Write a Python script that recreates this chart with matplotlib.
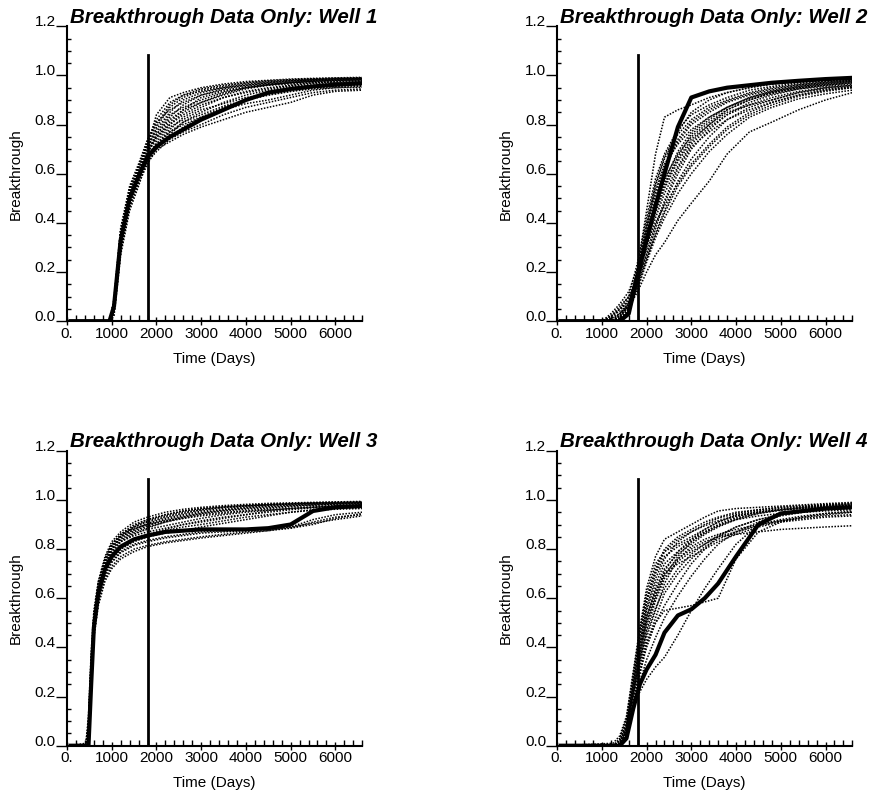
import matplotlib
matplotlib.use('Agg')
import matplotlib.pyplot as plt
from matplotlib.ticker import MultipleLocator, FuncFormatter

plt.rcParams['font.family'] = ['Liberation Sans', 'DejaVu Sans']

# ---- data ----
cutoff_day = 1800
cutoff_top = 1.085

# Well 1
t_w1 = [80, 950, 1050, 1200, 1400, 1600, 1800, 2000, 2300, 2600, 3000, 3500, 4000, 4500, 5000, 5500, 6000, 6600]
truth_w1 = [0, 0, 0.06, 0.33, 0.50, 0.59, 0.67, 0.71, 0.75, 0.78, 0.82, 0.86, 0.90, 0.93, 0.945, 0.955, 0.962, 0.968]
runs_w1 = [
    [0, 0, 0.08, 0.36, 0.53, 0.62, 0.72, 0.84, 0.91, 0.93, 0.95, 0.965, 0.975, 0.98, 0.985, 0.988, 0.99, 0.992],
    [0, 0, 0.05, 0.31, 0.49, 0.60, 0.70, 0.79, 0.87, 0.91, 0.94, 0.955, 0.97, 0.975, 0.98, 0.985, 0.988, 0.99],
    [0, 0, 0.04, 0.30, 0.48, 0.58, 0.68, 0.76, 0.83, 0.88, 0.92, 0.945, 0.96, 0.97, 0.978, 0.983, 0.986, 0.988],
    [0, 0, 0.07, 0.34, 0.52, 0.61, 0.69, 0.74, 0.80, 0.85, 0.89, 0.92, 0.945, 0.96, 0.97, 0.975, 0.98, 0.984],
    [0, 0, 0.03, 0.28, 0.46, 0.57, 0.66, 0.72, 0.78, 0.83, 0.87, 0.91, 0.935, 0.95, 0.96, 0.97, 0.975, 0.98],
    [0, 0, 0.06, 0.32, 0.50, 0.58, 0.65, 0.69, 0.74, 0.77, 0.80, 0.84, 0.87, 0.89, 0.91, 0.93, 0.94, 0.945],
    [0, 0, 0.05, 0.33, 0.51, 0.60, 0.66, 0.70, 0.73, 0.76, 0.79, 0.82, 0.85, 0.87, 0.89, 0.92, 0.935, 0.94],
    [0, 0, 0.09, 0.38, 0.55, 0.64, 0.74, 0.81, 0.86, 0.89, 0.92, 0.94, 0.955, 0.965, 0.97, 0.975, 0.978, 0.98],
    [0, 0, 0.04, 0.29, 0.47, 0.56, 0.64, 0.70, 0.76, 0.81, 0.85, 0.89, 0.92, 0.94, 0.955, 0.96, 0.965, 0.97],
    [0, 0, 0.06, 0.35, 0.52, 0.62, 0.71, 0.77, 0.84, 0.87, 0.90, 0.93, 0.95, 0.962, 0.97, 0.976, 0.98, 0.982],
    [0, 0, 0.02, 0.27, 0.45, 0.55, 0.66, 0.73, 0.79, 0.82, 0.86, 0.885, 0.91, 0.925, 0.94, 0.95, 0.955, 0.96],
    [0, 0, 0.07, 0.36, 0.54, 0.63, 0.73, 0.80, 0.88, 0.92, 0.945, 0.96, 0.97, 0.978, 0.983, 0.986, 0.988, 0.99],
    [0, 0, 0.05, 0.31, 0.49, 0.59, 0.67, 0.72, 0.77, 0.80, 0.83, 0.87, 0.90, 0.92, 0.935, 0.945, 0.95, 0.955],
    [0, 0, 0.08, 0.37, 0.53, 0.61, 0.70, 0.75, 0.81, 0.86, 0.91, 0.935, 0.95, 0.96, 0.965, 0.97, 0.972, 0.975],
    [0, 0, 0.06, 0.34, 0.51, 0.60, 0.69, 0.76, 0.82, 0.86, 0.89, 0.925, 0.95, 0.962, 0.972, 0.978, 0.982, 0.985],
    [0, 0, 0.04, 0.30, 0.48, 0.58, 0.67, 0.71, 0.75, 0.79, 0.83, 0.86, 0.885, 0.90, 0.92, 0.94, 0.95, 0.952],
    [0, 0, 0.07, 0.35, 0.52, 0.62, 0.72, 0.82, 0.89, 0.92, 0.935, 0.95, 0.96, 0.968, 0.975, 0.98, 0.984, 0.986],
    [0, 0, 0.05, 0.32, 0.50, 0.60, 0.68, 0.75, 0.80, 0.84, 0.88, 0.91, 0.93, 0.945, 0.958, 0.966, 0.97, 0.974],
    [0, 0, 0.03, 0.29, 0.47, 0.57, 0.65, 0.71, 0.77, 0.81, 0.84, 0.875, 0.90, 0.92, 0.935, 0.95, 0.958, 0.962],
    [0, 0, 0.08, 0.37, 0.54, 0.63, 0.72, 0.78, 0.85, 0.90, 0.93, 0.95, 0.965, 0.972, 0.978, 0.982, 0.985, 0.988],
]

# Well 2
t_w2 = [80, 1000, 1200, 1400, 1600, 1800, 2000, 2200, 2400, 2700, 3000, 3400, 3800, 4300, 4800, 5400, 6000, 6600]
truth_w2 = [0, 0, 0, 0, 0.03, 0.19, 0.33, 0.47, 0.60, 0.79, 0.91, 0.935, 0.95, 0.96, 0.97, 0.978, 0.985, 0.99]
runs_w2 = [
    [0, 0, 0.03, 0.07, 0.12, 0.22, 0.45, 0.68, 0.83, 0.86, 0.88, 0.91, 0.93, 0.95, 0.965, 0.975, 0.98, 0.985],
    [0, 0, 0.01, 0.05, 0.10, 0.24, 0.42, 0.58, 0.68, 0.78, 0.84, 0.88, 0.91, 0.94, 0.955, 0.97, 0.978, 0.985],
    [0, 0, 0, 0.03, 0.08, 0.20, 0.38, 0.55, 0.66, 0.76, 0.82, 0.87, 0.90, 0.93, 0.95, 0.965, 0.975, 0.98],
    [0, 0, 0, 0.02, 0.06, 0.18, 0.35, 0.50, 0.62, 0.73, 0.80, 0.85, 0.89, 0.92, 0.94, 0.96, 0.97, 0.978],
    [0, 0, 0, 0.01, 0.05, 0.17, 0.32, 0.46, 0.57, 0.69, 0.77, 0.83, 0.87, 0.91, 0.935, 0.955, 0.965, 0.975],
    [0, 0, 0, 0.02, 0.07, 0.21, 0.36, 0.48, 0.58, 0.68, 0.75, 0.81, 0.86, 0.90, 0.93, 0.95, 0.96, 0.97],
    [0, 0, 0, 0.01, 0.04, 0.16, 0.30, 0.42, 0.52, 0.63, 0.72, 0.79, 0.84, 0.89, 0.92, 0.945, 0.955, 0.965],
    [0, 0, 0, 0, 0.03, 0.15, 0.27, 0.38, 0.48, 0.60, 0.70, 0.78, 0.84, 0.88, 0.91, 0.935, 0.95, 0.96],
    [0, 0, 0.02, 0.04, 0.09, 0.19, 0.31, 0.40, 0.47, 0.56, 0.64, 0.72, 0.79, 0.85, 0.89, 0.92, 0.94, 0.955],
    [0, 0, 0, 0.01, 0.04, 0.13, 0.24, 0.34, 0.42, 0.52, 0.60, 0.69, 0.76, 0.83, 0.87, 0.905, 0.925, 0.94],
    [0, 0, 0.01, 0.03, 0.06, 0.12, 0.20, 0.27, 0.32, 0.41, 0.48, 0.57, 0.68, 0.77, 0.81, 0.86, 0.90, 0.93],
    [0, 0, 0, 0.02, 0.06, 0.22, 0.40, 0.56, 0.67, 0.77, 0.85, 0.90, 0.93, 0.95, 0.965, 0.975, 0.982, 0.988],
    [0, 0, 0, 0.01, 0.05, 0.19, 0.34, 0.47, 0.56, 0.66, 0.74, 0.80, 0.85, 0.88, 0.90, 0.93, 0.95, 0.96],
    [0, 0, 0.02, 0.05, 0.08, 0.14, 0.25, 0.36, 0.45, 0.57, 0.66, 0.75, 0.82, 0.87, 0.90, 0.93, 0.945, 0.955],
    [0, 0, 0, 0.02, 0.07, 0.20, 0.37, 0.52, 0.63, 0.74, 0.81, 0.86, 0.895, 0.925, 0.945, 0.962, 0.972, 0.98],
    [0, 0, 0.01, 0.03, 0.07, 0.17, 0.31, 0.44, 0.54, 0.65, 0.73, 0.80, 0.86, 0.90, 0.925, 0.945, 0.96, 0.97],
    [0, 0, 0, 0.01, 0.05, 0.18, 0.33, 0.45, 0.55, 0.67, 0.76, 0.82, 0.87, 0.91, 0.935, 0.955, 0.968, 0.975],
    [0, 0, 0.02, 0.06, 0.10, 0.16, 0.26, 0.35, 0.44, 0.55, 0.63, 0.71, 0.78, 0.84, 0.88, 0.915, 0.935, 0.95],
    [0, 0, 0, 0.02, 0.06, 0.21, 0.39, 0.53, 0.64, 0.72, 0.78, 0.83, 0.87, 0.905, 0.93, 0.95, 0.962, 0.97],
    [0, 0, 0, 0, 0.04, 0.16, 0.28, 0.39, 0.49, 0.62, 0.71, 0.77, 0.82, 0.86, 0.89, 0.92, 0.94, 0.95],
]

# Well 3
t_w3 = [80, 420, 480, 540, 600, 700, 850, 1000, 1200, 1500, 1800, 2200, 2600, 3000, 3500, 4000, 4500, 5000, 5500, 6000, 6600]
truth_w3 = [0, 0, 0, 0.25, 0.48, 0.62, 0.72, 0.77, 0.81, 0.84, 0.855, 0.87, 0.875, 0.88, 0.88, 0.88, 0.885, 0.90, 0.955, 0.97, 0.975]
runs_w3 = [
    [0, 0, 0.10, 0.35, 0.53, 0.66, 0.76, 0.82, 0.86, 0.90, 0.92, 0.94, 0.955, 0.965, 0.972, 0.978, 0.982, 0.985, 0.988, 0.99, 0.992],
    [0, 0, 0.05, 0.30, 0.50, 0.64, 0.75, 0.80, 0.85, 0.88, 0.905, 0.925, 0.94, 0.955, 0.965, 0.972, 0.978, 0.982, 0.985, 0.988, 0.99],
    [0, 0, 0.02, 0.27, 0.47, 0.61, 0.72, 0.78, 0.83, 0.86, 0.885, 0.91, 0.93, 0.945, 0.958, 0.966, 0.972, 0.977, 0.98, 0.984, 0.986],
    [0, 0.01, 0.12, 0.38, 0.55, 0.67, 0.77, 0.83, 0.87, 0.91, 0.93, 0.95, 0.962, 0.97, 0.977, 0.982, 0.986, 0.988, 0.99, 0.992, 0.994],
    [0, 0, 0.04, 0.29, 0.48, 0.62, 0.72, 0.77, 0.81, 0.84, 0.86, 0.88, 0.90, 0.915, 0.93, 0.94, 0.95, 0.96, 0.968, 0.972, 0.975],
    [0, 0, 0.03, 0.26, 0.45, 0.58, 0.68, 0.73, 0.77, 0.80, 0.815, 0.83, 0.84, 0.85, 0.86, 0.87, 0.875, 0.885, 0.91, 0.93, 0.94],
    [0, 0, 0.06, 0.31, 0.50, 0.63, 0.73, 0.79, 0.83, 0.855, 0.87, 0.885, 0.90, 0.91, 0.925, 0.94, 0.955, 0.965, 0.972, 0.978, 0.98],
    [0, 0, 0.08, 0.33, 0.52, 0.65, 0.75, 0.81, 0.855, 0.89, 0.91, 0.93, 0.945, 0.96, 0.97, 0.976, 0.98, 0.984, 0.987, 0.989, 0.99],
    [0, 0, 0.03, 0.28, 0.47, 0.60, 0.70, 0.75, 0.79, 0.82, 0.835, 0.85, 0.86, 0.87, 0.875, 0.88, 0.885, 0.89, 0.92, 0.94, 0.95],
    [0, 0, 0.07, 0.32, 0.51, 0.64, 0.74, 0.80, 0.84, 0.87, 0.89, 0.91, 0.925, 0.94, 0.95, 0.955, 0.96, 0.965, 0.97, 0.975, 0.978],
    [0, 0, 0.04, 0.29, 0.49, 0.63, 0.74, 0.80, 0.85, 0.89, 0.915, 0.935, 0.95, 0.96, 0.97, 0.975, 0.98, 0.984, 0.986, 0.988, 0.99],
    [0, 0, 0.05, 0.30, 0.48, 0.61, 0.71, 0.76, 0.80, 0.83, 0.85, 0.865, 0.875, 0.89, 0.905, 0.92, 0.935, 0.95, 0.96, 0.965, 0.97],
    [0, 0, 0.09, 0.34, 0.53, 0.66, 0.76, 0.82, 0.86, 0.885, 0.90, 0.915, 0.925, 0.935, 0.945, 0.955, 0.965, 0.972, 0.978, 0.982, 0.985],
    [0, 0, 0.02, 0.25, 0.44, 0.57, 0.67, 0.72, 0.76, 0.79, 0.81, 0.825, 0.835, 0.845, 0.855, 0.865, 0.875, 0.89, 0.905, 0.92, 0.935],
    [0, 0, 0.06, 0.31, 0.50, 0.63, 0.74, 0.80, 0.845, 0.875, 0.895, 0.915, 0.93, 0.945, 0.955, 0.962, 0.968, 0.975, 0.98, 0.983, 0.985],
    [0, 0, 0.04, 0.28, 0.47, 0.60, 0.70, 0.76, 0.80, 0.835, 0.855, 0.875, 0.89, 0.90, 0.915, 0.93, 0.94, 0.95, 0.958, 0.962, 0.965],
    [0, 0, 0.08, 0.34, 0.53, 0.66, 0.76, 0.815, 0.86, 0.895, 0.92, 0.94, 0.955, 0.965, 0.973, 0.978, 0.982, 0.985, 0.988, 0.99, 0.992],
    [0, 0, 0.03, 0.27, 0.46, 0.59, 0.69, 0.745, 0.785, 0.815, 0.83, 0.845, 0.855, 0.865, 0.87, 0.875, 0.88, 0.885, 0.90, 0.925, 0.945],
    [0, 0, 0.05, 0.30, 0.49, 0.62, 0.73, 0.79, 0.835, 0.865, 0.88, 0.895, 0.91, 0.925, 0.94, 0.95, 0.958, 0.965, 0.97, 0.975, 0.978],
    [0, 0, 0.07, 0.32, 0.51, 0.64, 0.75, 0.81, 0.85, 0.88, 0.90, 0.92, 0.935, 0.95, 0.96, 0.968, 0.975, 0.98, 0.984, 0.987, 0.99],
]

# Well 4
t_w4 = [80, 1250, 1400, 1550, 1700, 1850, 2000, 2200, 2400, 2700, 3000, 3300, 3600, 4000, 4500, 5000, 5500, 6000, 6600]
truth_w4 = [0, 0, 0, 0.03, 0.15, 0.25, 0.31, 0.37, 0.46, 0.53, 0.555, 0.60, 0.66, 0.77, 0.90, 0.945, 0.955, 0.965, 0.97]
runs_w4 = [
    [0, 0, 0.02, 0.10, 0.28, 0.46, 0.60, 0.72, 0.80, 0.85, 0.88, 0.91, 0.93, 0.95, 0.96, 0.97, 0.975, 0.98, 0.985],
    [0, 0, 0.01, 0.08, 0.25, 0.42, 0.56, 0.68, 0.76, 0.83, 0.87, 0.90, 0.925, 0.945, 0.96, 0.97, 0.977, 0.982, 0.987],
    [0, 0, 0, 0.06, 0.22, 0.38, 0.52, 0.64, 0.72, 0.78, 0.82, 0.86, 0.89, 0.92, 0.945, 0.96, 0.97, 0.978, 0.984],
    [0, 0.01, 0.04, 0.12, 0.30, 0.48, 0.64, 0.77, 0.84, 0.87, 0.90, 0.93, 0.955, 0.965, 0.97, 0.975, 0.98, 0.985, 0.99],
    [0, 0, 0, 0.05, 0.20, 0.34, 0.47, 0.59, 0.68, 0.75, 0.79, 0.82, 0.85, 0.87, 0.895, 0.915, 0.93, 0.94, 0.95],
    [0, 0, 0.01, 0.07, 0.23, 0.37, 0.50, 0.61, 0.70, 0.76, 0.80, 0.83, 0.85, 0.86, 0.87, 0.88, 0.885, 0.89, 0.895],
    [0, 0, 0, 0.04, 0.18, 0.30, 0.40, 0.50, 0.57, 0.66, 0.74, 0.80, 0.85, 0.89, 0.92, 0.94, 0.955, 0.965, 0.97],
    [0, 0, 0, 0.05, 0.19, 0.32, 0.42, 0.50, 0.55, 0.56, 0.57, 0.585, 0.60, 0.76, 0.87, 0.91, 0.93, 0.945, 0.955],
    [0, 0, 0, 0.03, 0.16, 0.22, 0.27, 0.32, 0.36, 0.45, 0.55, 0.64, 0.72, 0.82, 0.90, 0.94, 0.955, 0.965, 0.975],
    [0, 0, 0.02, 0.09, 0.26, 0.44, 0.58, 0.70, 0.77, 0.81, 0.84, 0.87, 0.895, 0.92, 0.935, 0.945, 0.95, 0.955, 0.96],
    [0, 0, 0.01, 0.07, 0.24, 0.40, 0.53, 0.63, 0.70, 0.74, 0.77, 0.80, 0.83, 0.86, 0.89, 0.91, 0.92, 0.93, 0.935],
    [0, 0, 0, 0.06, 0.21, 0.36, 0.49, 0.60, 0.69, 0.77, 0.83, 0.87, 0.90, 0.93, 0.95, 0.962, 0.97, 0.975, 0.98],
    [0, 0, 0.03, 0.11, 0.29, 0.47, 0.62, 0.74, 0.79, 0.82, 0.85, 0.88, 0.91, 0.94, 0.955, 0.965, 0.972, 0.978, 0.982],
    [0, 0, 0, 0.04, 0.17, 0.29, 0.41, 0.52, 0.62, 0.70, 0.76, 0.81, 0.84, 0.87, 0.90, 0.92, 0.935, 0.945, 0.95],
    [0, 0, 0.02, 0.09, 0.27, 0.45, 0.59, 0.71, 0.79, 0.84, 0.87, 0.895, 0.915, 0.935, 0.95, 0.96, 0.968, 0.975, 0.98],
    [0, 0, 0.01, 0.06, 0.21, 0.35, 0.46, 0.56, 0.64, 0.72, 0.78, 0.82, 0.855, 0.89, 0.92, 0.94, 0.952, 0.962, 0.97],
    [0, 0, 0, 0.05, 0.20, 0.33, 0.44, 0.55, 0.66, 0.76, 0.81, 0.84, 0.86, 0.88, 0.90, 0.915, 0.925, 0.935, 0.94],
    [0, 0, 0.02, 0.08, 0.25, 0.41, 0.55, 0.66, 0.74, 0.79, 0.83, 0.865, 0.895, 0.925, 0.945, 0.958, 0.966, 0.972, 0.978],
    [0, 0, 0, 0.04, 0.16, 0.26, 0.35, 0.44, 0.52, 0.61, 0.69, 0.76, 0.82, 0.87, 0.91, 0.935, 0.95, 0.96, 0.965],
    [0, 0, 0.01, 0.07, 0.23, 0.39, 0.51, 0.62, 0.71, 0.79, 0.84, 0.88, 0.91, 0.935, 0.95, 0.96, 0.965, 0.97, 0.972],
]

titles = ['Breakthrough Data Only: Well 1', 'Breakthrough Data Only: Well 2',
          'Breakthrough Data Only: Well 3', 'Breakthrough Data Only: Well 4']
wells = [(t_w1, truth_w1, runs_w1), (t_w2, truth_w2, runs_w2),
         (t_w3, truth_w3, runs_w3), (t_w4, truth_w4, runs_w4)]

# axes boxes in figure fraction (left, bottom, width, height)
boxes = [(0.0765, 0.596, 0.337, 0.371), (0.636, 0.596, 0.337, 0.371),
         (0.0765, 0.062, 0.337, 0.371), (0.636, 0.062, 0.337, 0.371)]

fig = plt.figure(figsize=(8.76, 7.95), dpi=100)

def xfmt(v, pos):
    if v == 0:
        return '0.'
    return '%d' % v

for box, title, (t, truth, runs) in zip(boxes, titles, wells):
    ax = fig.add_axes(box)
    for r in runs:
        ax.plot(t, r, color='black', lw=1.1, linestyle=(0, (1, 1)))
    ax.plot(t, truth, color='black', lw=3.0, solid_joinstyle='round')
    ax.plot([cutoff_day, cutoff_day], [0, cutoff_top], color='black', lw=2.0)

    ax.set_xlim(0, 6600)
    ax.set_ylim(0, 1.2)
    ax.spines['top'].set_visible(False)
    ax.spines['right'].set_visible(False)
    ax.spines['left'].set_linewidth(1.5)
    ax.spines['bottom'].set_linewidth(1.5)

    ax.xaxis.set_major_locator(MultipleLocator(1000))
    ax.xaxis.set_minor_locator(MultipleLocator(200))
    ax.xaxis.set_major_formatter(FuncFormatter(xfmt))
    ax.yaxis.set_major_locator(MultipleLocator(0.2))
    ax.yaxis.set_minor_locator(MultipleLocator(0.05))
    ax.yaxis.set_major_formatter(FuncFormatter(lambda v, p: '%.1f' % v))

    ax.tick_params(axis='y', which='major', direction='out', length=8, width=1, pad=0, labelsize=11)
    ax.tick_params(axis='y', which='minor', direction='in', length=3, width=1)
    ax.tick_params(axis='x', which='major', direction='inout', length=6, width=1, pad=1, labelsize=11)
    ax.tick_params(axis='x', which='minor', direction='in', length=4, width=1)
    for lbl in ax.get_yticklabels():
        lbl.set_verticalalignment('baseline')

    ax.set_xlabel('Time (Days)', fontsize=11, labelpad=8)
    ax.set_ylabel('Breakthrough', fontsize=11, labelpad=9)
    ax.text(0.01, 1.012, title, transform=ax.transAxes, ha='left', va='baseline',
            fontsize=14.8, fontweight='bold', fontstyle='italic')

fig.savefig('out.png', dpi=100)
